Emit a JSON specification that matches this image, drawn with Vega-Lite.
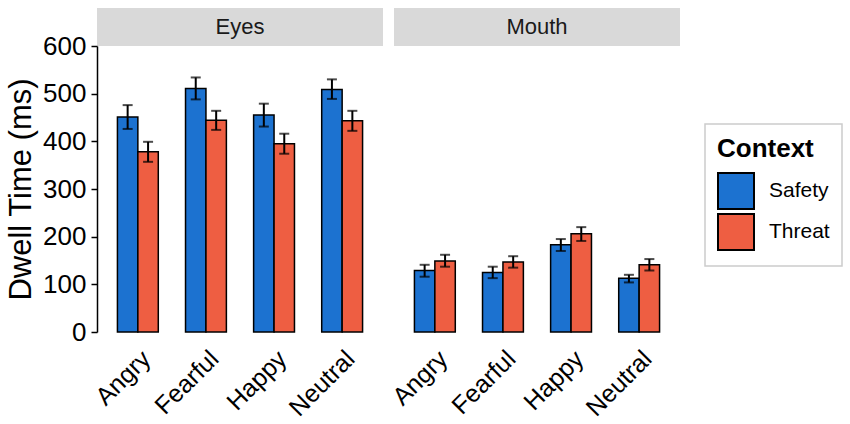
{
  "$schema": "https://vega.github.io/schema/vega-lite/v6.json",
  "background": "white",
  "padding": {"left": 5, "top": 8, "right": 5, "bottom": 5},
  "datasets": {
    "bars": [
      {"panel": "Eyes", "emotion": "Angry", "context": "Safety", "mean": 451, "lo": 426, "hi": 476},
      {"panel": "Eyes", "emotion": "Angry", "context": "Threat", "mean": 378, "lo": 357, "hi": 399},
      {"panel": "Eyes", "emotion": "Fearful", "context": "Safety", "mean": 511, "lo": 488, "hi": 534},
      {"panel": "Eyes", "emotion": "Fearful", "context": "Threat", "mean": 444, "lo": 424, "hi": 464},
      {"panel": "Eyes", "emotion": "Happy", "context": "Safety", "mean": 455, "lo": 431, "hi": 479},
      {"panel": "Eyes", "emotion": "Happy", "context": "Threat", "mean": 395, "lo": 374, "hi": 416},
      {"panel": "Eyes", "emotion": "Neutral", "context": "Safety", "mean": 509, "lo": 489, "hi": 530},
      {"panel": "Eyes", "emotion": "Neutral", "context": "Threat", "mean": 443, "lo": 422, "hi": 464},
      {"panel": "Mouth", "emotion": "Angry", "context": "Safety", "mean": 129, "lo": 116, "hi": 141},
      {"panel": "Mouth", "emotion": "Angry", "context": "Threat", "mean": 149, "lo": 137, "hi": 162},
      {"panel": "Mouth", "emotion": "Fearful", "context": "Safety", "mean": 125, "lo": 113, "hi": 137},
      {"panel": "Mouth", "emotion": "Fearful", "context": "Threat", "mean": 147, "lo": 135, "hi": 159},
      {"panel": "Mouth", "emotion": "Happy", "context": "Safety", "mean": 183, "lo": 170, "hi": 195},
      {"panel": "Mouth", "emotion": "Happy", "context": "Threat", "mean": 206, "lo": 191, "hi": 220},
      {"panel": "Mouth", "emotion": "Neutral", "context": "Safety", "mean": 113, "lo": 104, "hi": 120},
      {"panel": "Mouth", "emotion": "Neutral", "context": "Threat", "mean": 141, "lo": 129, "hi": 153}
    ]
  },
  "config": {
    "font": "Liberation Sans",
    "view": {"stroke": null},
    "legend": {
      "orient": "none",
      "legendX": 608,
      "legendY": 116,
      "strokeColor": "#cccccc",
      "strokeWidth": 1.5,
      "padding": 12,
      "titleFontSize": 26,
      "titleFontWeight": "bold",
      "titleColor": "black",
      "titlePadding": 10,
      "labelFontSize": 21,
      "labelColor": "black",
      "labelOffset": 14,
      "symbolType": "square",
      "symbolSize": 1296,
      "symbolStrokeColor": "black",
      "symbolStrokeWidth": 2,
      "symbolOpacity": 1,
      "rowPadding": -9
    },
    "axisX": {
      "title": null,
      "domain": false,
      "ticks": false,
      "labelAngle": -45,
      "labelAlign": "right",
      "labelBaseline": "top",
      "labelFontSize": 25,
      "labelColor": "black",
      "labelPadding": 14
    },
    "axisY": {
      "grid": false,
      "domainColor": "black",
      "domainWidth": 1.5,
      "tickColor": "black",
      "tickWidth": 1.5,
      "tickSize": 6,
      "labelFontSize": 26,
      "labelColor": "black",
      "labelPadding": 5,
      "titleFontSize": 31,
      "titleFontWeight": "normal",
      "titleColor": "black",
      "titlePadding": 5
    }
  },
  "spacing": 5,
  "hconcat": [
    {
      "bounds": "flush",
      "spacing": 0,
      "vconcat": [
        {
          "width": 286,
          "height": 38,
          "data": {"values": [{"panel": "Eyes"}]},
          "view": {"fill": "#d9d9d9", "stroke": null},
          "mark": {"type": "text", "fontSize": 22, "color": "#1a1a1a"},
          "encoding": {"text": {"field": "panel", "type": "nominal"}}
        },
        {
          "width": 286,
          "height": 286,
          "data": {"name": "bars"},
          "transform": [{"filter": "datum.panel == 'Eyes'"}],
          "encoding": {
            "x": {"field": "emotion", "type": "nominal", "scale": {"paddingInner": 0.4, "paddingOuter": 0.3}},
            "xOffset": {"field": "context", "type": "nominal", "scale": {"paddingInner": 0, "paddingOuter": 0}}
          },
          "layer": [
            {
              "mark": {"type": "bar", "stroke": "black", "strokeWidth": 1.5},
              "encoding": {
                "y": {
                  "field": "mean",
                  "type": "quantitative",
                  "scale": {"domain": [0, 600], "nice": false},
                  "axis": {"title": "Dwell Time (ms)", "values": [0, 100, 200, 300, 400, 500, 600]}
                },
                "color": {
                  "field": "context",
                  "type": "nominal",
                  "title": "Context",
                  "scale": {"domain": ["Safety", "Threat"], "range": ["#1c72d0", "#ee5e42"]}
                }
              }
            },
            {
              "mark": {"type": "rule", "color": "black", "strokeWidth": 2},
              "encoding": {"y": {"field": "lo", "type": "quantitative"}, "y2": {"field": "hi"}}
            },
            {
              "mark": {"type": "tick", "color": "black", "thickness": 2, "size": 10},
              "encoding": {"y": {"field": "lo", "type": "quantitative"}}
            },
            {
              "mark": {"type": "tick", "color": "black", "thickness": 2, "size": 10},
              "encoding": {"y": {"field": "hi", "type": "quantitative"}}
            }
          ]
        }
      ]
    },
    {
      "bounds": "flush",
      "spacing": 0,
      "vconcat": [
        {
          "width": 286,
          "height": 38,
          "data": {"values": [{"panel": "Mouth"}]},
          "view": {"fill": "#d9d9d9", "stroke": null},
          "mark": {"type": "text", "fontSize": 22, "color": "#1a1a1a"},
          "encoding": {"text": {"field": "panel", "type": "nominal"}}
        },
        {
          "width": 286,
          "height": 286,
          "data": {"name": "bars"},
          "transform": [{"filter": "datum.panel == 'Mouth'"}],
          "encoding": {
            "x": {"field": "emotion", "type": "nominal", "scale": {"paddingInner": 0.4, "paddingOuter": 0.3}},
            "xOffset": {"field": "context", "type": "nominal", "scale": {"paddingInner": 0, "paddingOuter": 0}}
          },
          "layer": [
            {
              "mark": {"type": "bar", "stroke": "black", "strokeWidth": 1.5},
              "encoding": {
                "y": {
                  "field": "mean",
                  "type": "quantitative",
                  "scale": {"domain": [0, 600], "nice": false},
                  "axis": null
                },
                "color": {
                  "field": "context",
                  "type": "nominal",
                  "title": "Context",
                  "scale": {"domain": ["Safety", "Threat"], "range": ["#1c72d0", "#ee5e42"]}
                }
              }
            },
            {
              "mark": {"type": "rule", "color": "black", "strokeWidth": 2},
              "encoding": {"y": {"field": "lo", "type": "quantitative"}, "y2": {"field": "hi"}}
            },
            {
              "mark": {"type": "tick", "color": "black", "thickness": 2, "size": 10},
              "encoding": {"y": {"field": "lo", "type": "quantitative"}}
            },
            {
              "mark": {"type": "tick", "color": "black", "thickness": 2, "size": 10},
              "encoding": {"y": {"field": "hi", "type": "quantitative"}}
            }
          ]
        }
      ]
    }
  ]
}
